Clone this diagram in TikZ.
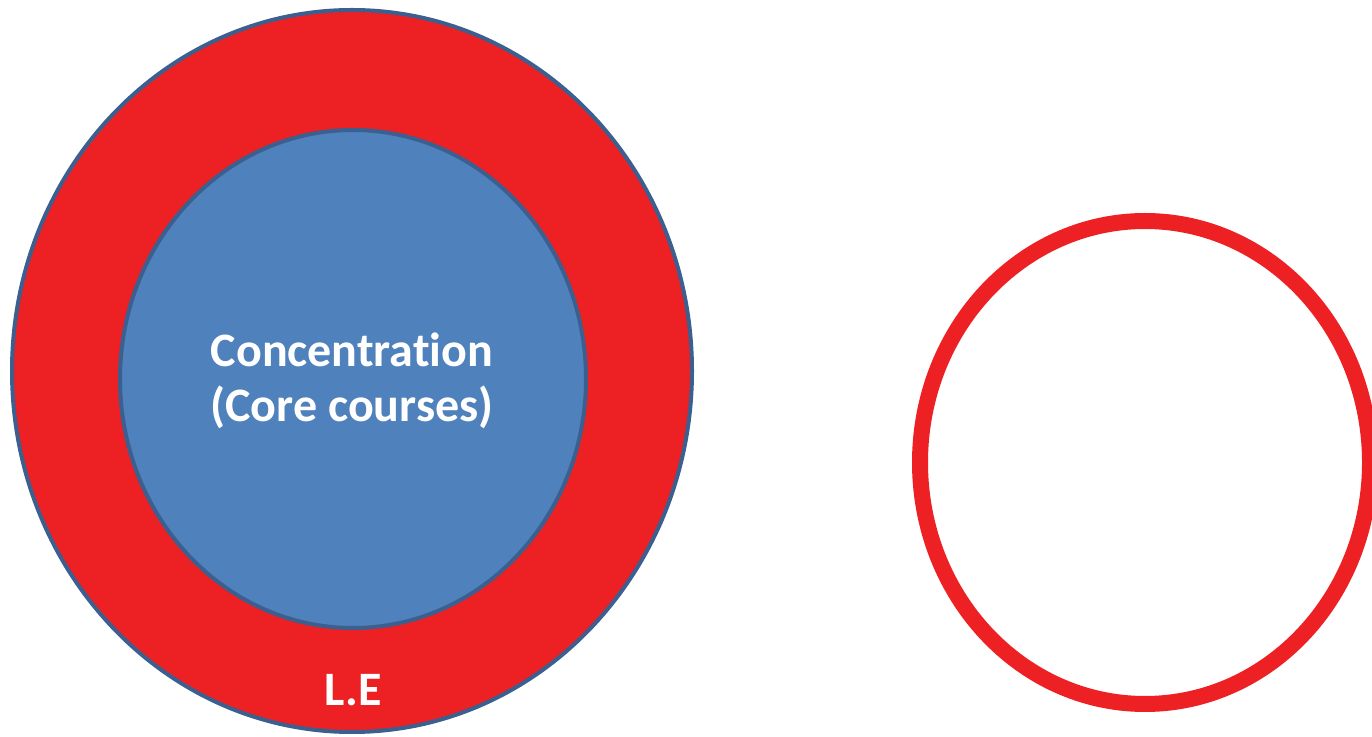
\documentclass[tikz,border=0pt]{standalone}
\usepackage{fontspec}
\setmainfont[Ligatures=NoCommon]{Carlito}
\definecolor{ringred}{HTML}{ED2024}
\definecolor{coreblue}{HTML}{4F81BD}
\definecolor{edgeblue}{HTML}{3B5F8E}
\begin{document}
\begin{tikzpicture}[x=1pt,y=1pt,
  lbl/.style={text=white,font=\fontsize{48}{55}\selectfont\bfseries,align=center,inner sep=0pt}]
\useasboundingbox (0,0) rectangle (1372,736);
\draw[fill=ringred,draw=edgeblue,line width=4pt] (352,365) ellipse [x radius=340,y radius=361];
\draw[fill=coreblue,draw=edgeblue,line width=4pt] (353,357) ellipse [x radius=233,y radius=249];
\draw[draw=ringred,line width=16pt] (1145,273.5) ellipse [x radius=225,y radius=241.5];
\node[lbl] (core) at (352,355) {Concentration\\(Core courses)};
\node[lbl,anchor=base] (le) at (353,31) {L.E};
\end{tikzpicture}
\end{document}
